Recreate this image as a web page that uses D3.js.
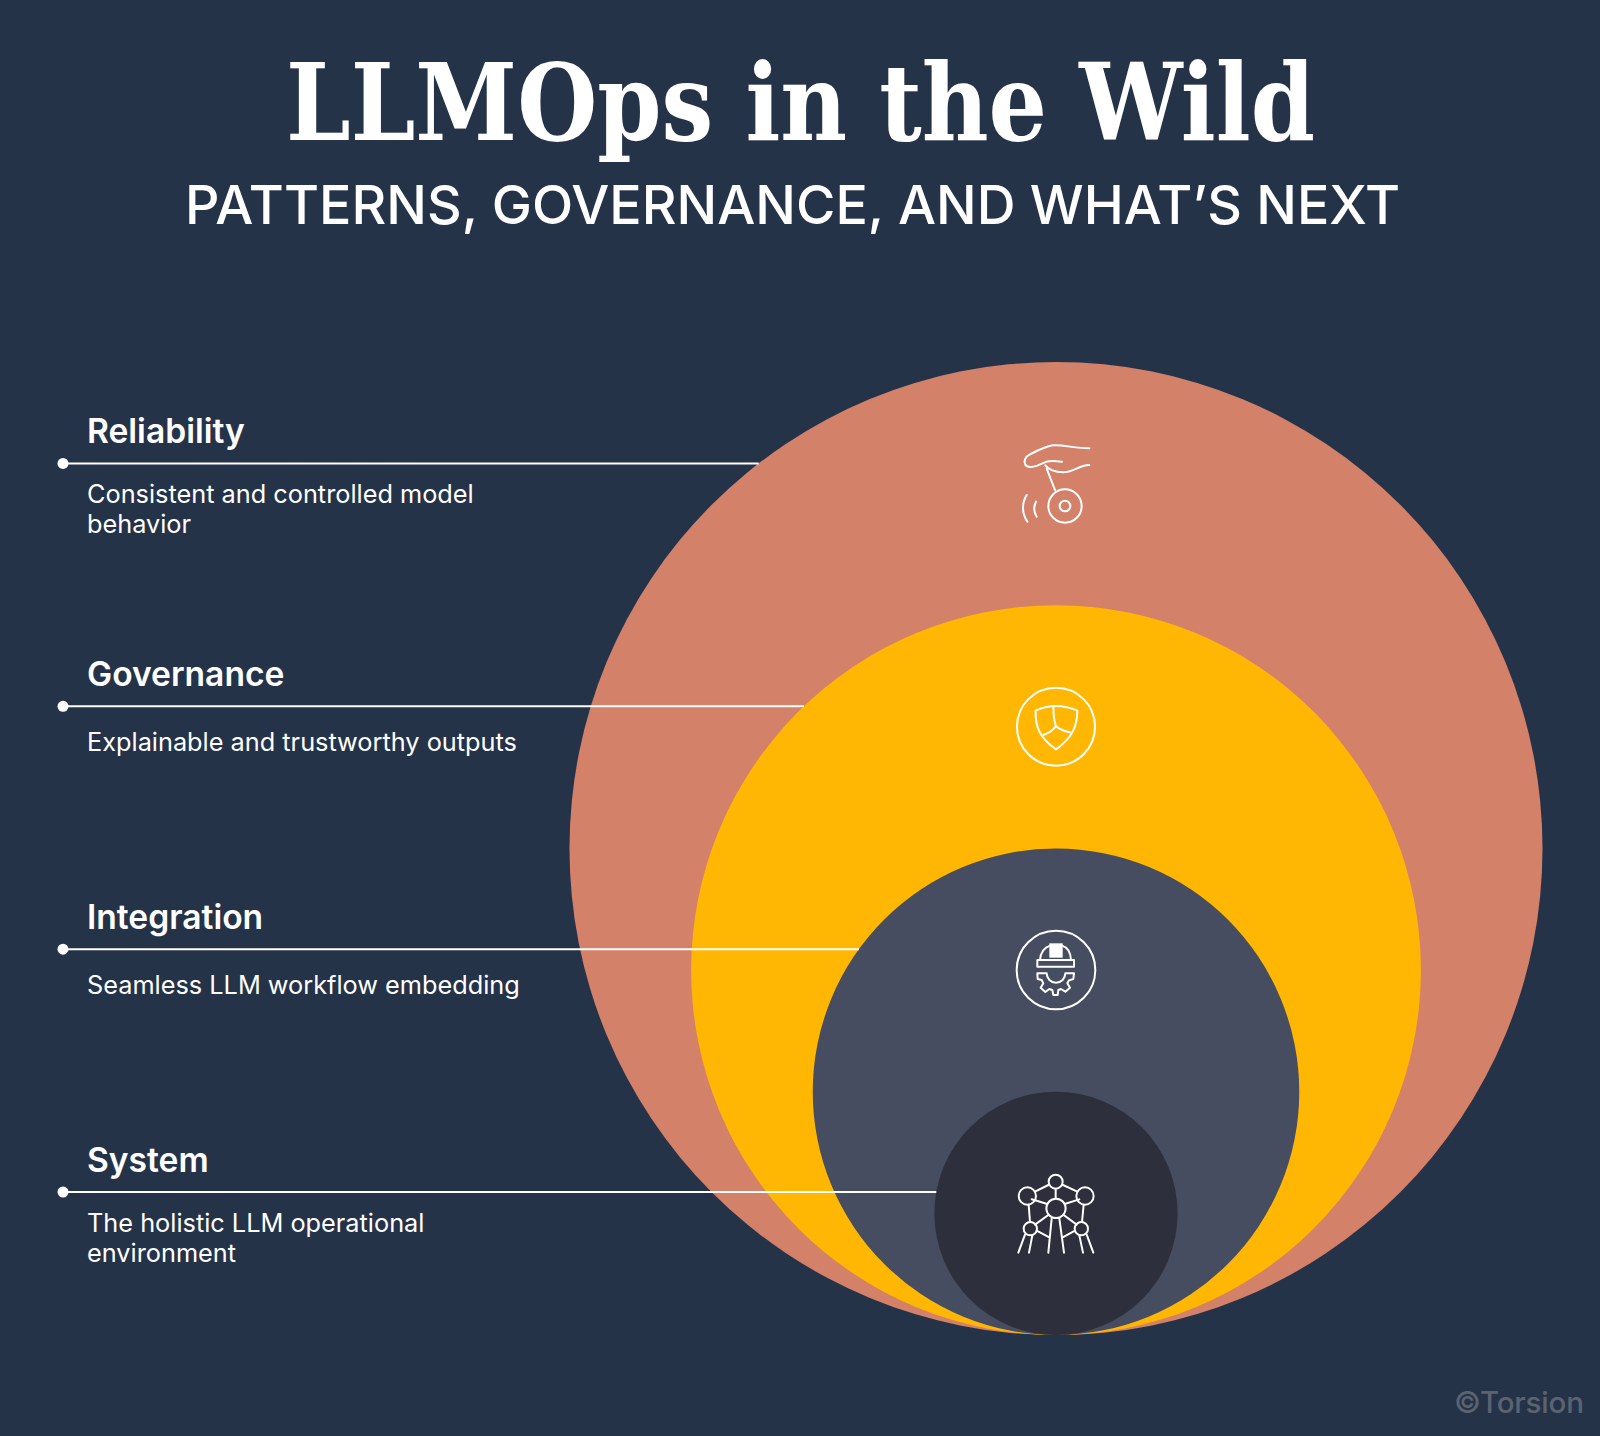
<!DOCTYPE html>
<html><head><meta charset="utf-8">
<script src="https://cdn.jsdelivr.net/npm/d3@7"></script>
<style>html,body{margin:0;padding:0;background:#253349}svg{display:block}text{font-family:Inter,sans-serif}</style>
</head><body><div id="c"></div>
<script>
const layerNames = ["Reliability","Governance","Integration","System"];
const layerSizes = [4,3,2,1];
const layerColors = ["#D4816A","#FFB703","#464D60","#2D303C"];
const layerNotes = [["Consistent and controlled model","behavior"],["Explainable and trustworthy outputs"],["Seamless LLM workflow embedding"],["The holistic LLM operational","environment"]];
const titleText = "LLMOps in the Wild";
const subtitleText = "PATTERNS, GOVERNANCE, AND WHAT\u2019S NEXT";
const creditText = "\u00A9Torsion";

const W=1600,H=1436,cx=1056,bottom=1335;
const r=d3.scaleLinear().domain([0,4]).range([0,486.5]);
const rowY=d3.scaleLinear().domain([4,1]).range([463.4,1192]);
const svg=d3.select("#c").append("svg").attr("width",W).attr("height",H).attr("viewBox",`0 0 ${W} ${H}`);
svg.append("rect").attr("width",W).attr("height",H).attr("fill","#253349");

svg.append("text").attr("x",286).attr("y",140).attr("textLength",1029).attr("lengthAdjust","spacingAndGlyphs")
  .attr("fill","#fff").style("font-family","'DejaVu Serif',serif").style("font-weight",700).style("font-size","107px").text(titleText);
svg.append("text").attr("x",185).attr("y",223.5).attr("textLength",1215).attr("lengthAdjust","spacingAndGlyphs")
  .attr("fill","#fff").style("font-size","54px").style("font-weight",500).text(subtitleText);

const layers=layerNames.map((name,i)=>({name,size:layerSizes[i],color:layerColors[i],note:layerNotes[i]}));
svg.append("g").selectAll("circle").data(layers).join("circle")
  .attr("cx",cx).attr("cy",d=>bottom-r(d.size)).attr("r",d=>r(d.size)).attr("fill",d=>d.color);

const rows=svg.append("g").selectAll("g").data(layers).join("g")
  .attr("transform",d=>`translate(0,${rowY(d.size)})`);
rows.append("line").attr("x1",63).attr("y1",0).attr("y2",0).attr("stroke","#fff").attr("stroke-width",2)
  .attr("x2",d=>{const R=r(d.size),dy=bottom-R-rowY(d.size);return cx-Math.sqrt(R*R-dy*dy);});
rows.append("circle").attr("cx",63).attr("r",5.5).attr("fill","#fff");
rows.append("text").attr("x",87).attr("y",-20).attr("fill","#fff").style("font-size","33.6px").style("font-weight",600).text(d=>d.name);
rows.each(function(d){
  const g=d3.select(this),base=d.note.length>1?39.5:45;
  g.selectAll("text.n").data(d.note).join("text").attr("class","n").attr("x",87).attr("y",(t,i)=>base+i*30.6)
   .attr("fill","#fff").style("font-size","25.3px").style("font-weight",400).text(t=>t);
});

// Icons: pictograms traced in 3x local units
const icon=(x,y)=>svg.append("g").attr("transform",`translate(${x},${y}) scale(${1/3})`)
  .attr("fill","none").attr("stroke","#fff").attr("stroke-width",6).attr("stroke-linecap","round").attr("stroke-linejoin","round");
const i1=icon(980,420);
i1.append("path").attr("d","M328,85 C285,85 250,74 218,76 C195,80 170,93 150,103 C135,110 130,125 136,134 C143,145 160,141 172,137 L200,125 C215,120 235,124 246,125");
i1.append("path").attr("d","M196,136 C205,148 225,156 250,157 C280,157 295,136 328,135");
i1.append("path").attr("d","M200,146 L225,210");
i1.append("circle").attr("cx",255).attr("cy",258).attr("r",50);
i1.append("circle").attr("cx",255).attr("cy",258).attr("r",16);
i1.append("path").attr("d","M140,225 C125,250 125,280 142,305");
i1.append("path").attr("d","M168,245 C161,258 161,275 170,290");

const i2=icon(990,670);
i2.append("circle").attr("cx",198).attr("cy",170).attr("r",117);
i2.append("path").attr("d","M137,122 C135,170 150,205 198,238 C245,205 262,170 262,122 C240,112 220,108 198,108 C175,108 155,113 137,122Z");
i2.append("path").attr("d","M190,110 C191,130 190,150 198,168 M198,168 C188,182 175,190 160,195 M198,168 C210,180 225,184 240,187");

const i3=icon(990,915);
i3.append("circle").attr("cx",198).attr("cy",165).attr("r",118);
i3.append("path").attr("d","M142,135 H252 V155 H142Z");
i3.append("path").attr("d","M150,135 C152,110 165,97 180,92 M216,92 C232,97 242,112 243,135");
i3.append("rect").attr("x",178).attr("y",85).attr("width",40).attr("height",43).attr("fill","#fff").attr("stroke","none");
i3.append("path").attr("d","M142,175 H170 A28,28 0 0 0 226,175 H252 L250,192 L237,196 L232,205 L240,218 L226,230 L213,222 L205,225 L203,240 H190 L187,225 L178,222 L166,231 L152,218 L160,205 L155,195 L143,192 Z");

const i4=icon(990,1160);
[[197,65,21],[112,108,26],[285,108,26],[198,145,29],[121,206,20],[274,206,20]].forEach(c=>
  i4.append("circle").attr("cx",c[0]).attr("cy",c[1]).attr("r",c[2]));
i4.append("path").attr("d","M175,75 L135,95 M219,75 L262,95 M197,86 V115 M125,118 L172,132 M268,118 L224,132 M116,134 L120,186 M281,134 L276,186 M175,165 L135,194 M221,165 L260,194 M140,212 L178,232 M255,212 L218,232 M185,175 L175,278 M208,175 L222,278 M105,224 L85,278 M127,226 L117,278 M268,226 L279,278 M290,224 L310,278");

svg.append("text").attr("x",1454).attr("y",1413).attr("textLength",130).attr("fill","#5C6370")
  .style("font-size","29.5px").style("font-weight",500).text(creditText);
</script></body></html>
